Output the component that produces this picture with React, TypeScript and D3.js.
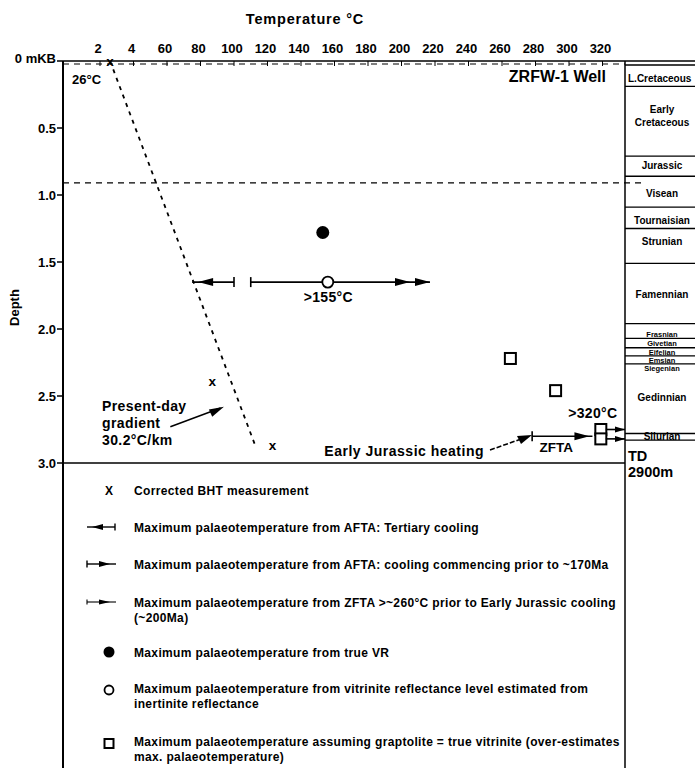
import React, { useEffect, useRef } from "react";
import * as d3 from "d3";

const W = 695;
const H = 768;
const FONT = '"Liberation Sans", Arial, sans-serif';

// axes
const tempTicks = [20, 40, 60, 80, 100, 120, 140, 160, 180, 200, 220, 240, 260, 280, 300, 320];
const tempTickLabels = ["2", "4", "60", "80", "100", "120", "140", "160", "180", "200", "220", "240", "260", "280", "300", "320"];
const depthTicks = [0, 0.5, 1, 1.5, 2, 2.5, 3];
const depthTickLabels = ["0 mKB", "0.5", "1.0", "1.5", "2.0", "2.5", "3.0"];

// corrected BHT (x)
const bhtTemp = [26, 87, 123];
const bhtDepth = [0, 2.39, 2.87];
// present-day gradient (30.2 C/km) end points
const gradTemp = [26, 113];
const gradDepth = [0, 2.88];
// true VR
const vrTemp = [153];
const vrDepth = [1.28];
// VR from inertinite
const inertTemp = [156];
const inertDepth = [1.65];
// graptolite reflectance
const graptTemp = [265, 292, 319, 319];
const graptDepth = [2.22, 2.46, 2.75, 2.82];
// AFTA / ZFTA ranges [tick, end]
const aftaTertiary = [100, 75];
const aftaEarly = [110, 217];
const zfta = [278, 314];
const aftaDepth = 1.65;
const zftaDepth = 2.8;
const unconformityDepth = 0.91;

// stratigraphic column
const stratNames = ["L.Cretaceous", "Early|Cretaceous", "Jurassic", "Visean", "Tournaisian", "Strunian", "Famennian",
  "Frasnian", "Givetian", "Eifelian", "Emsian", "Siegenian", "Gedinnian", "Silurian"];
const stratLabelDepth = [0.13, 0.41, 0.78, 0.99, 1.19, 1.35, 1.74, 2.03, 2.1, 2.17, 2.23, 2.29, 2.51, 2.8];
const stratBounds = [0.03, 0.19, 0.71, 0.86, 1.09, 1.25, 1.51, 1.96, 2.07, 2.14, 2.2, 2.26, 2.78, 2.83];

const legendItems = [
  ["Corrected BHT measurement"],
  ["Maximum palaeotemperature from AFTA: Tertiary cooling"],
  ["Maximum palaeotemperature from AFTA: cooling  commencing  prior to ~170Ma"],
  ["Maximum palaeotemperature from ZFTA >~260°C prior to Early Jurassic cooling", "(~200Ma)"],
  ["Maximum palaeotemperature from true VR"],
  ["Maximum palaeotemperature from vitrinite reflectance level estimated from", "inertinite reflectance"],
  ["Maximum palaeotemperature assuming graptolite = true vitrinite (over-estimates", "max. palaeotemperature)"],
];
const legendY = [490, 527, 564, 602, 652, 688, 741];

const App = () => {
  const ref = useRef<SVGSVGElement>(null);

  useEffect(() => {
    document.body.style.margin = "0";
    const svg = d3.select(ref.current);
    svg.selectAll("*").remove();

    const left = 63;
    const right = 625;
    const x = d3.scaleLinear().domain([0, 320]).range([66.5, 602.5]);
    const y = d3.scaleLinear().domain([0, 3]).range([61, 463]);

    const txt = (g: any, px: number, py: number, s: string, size: number, anchor = "start", ls = 0) =>
      g.append("text")
        .attr("x", px).attr("y", py)
        .attr("font-family", FONT).attr("font-weight", "bold")
        .attr("font-size", size).attr("text-anchor", anchor)
        .attr("letter-spacing", ls)
        .attr("fill", "black").text(s);

    const arrow = (g: any, tipX: number, tipY: number, dir: number, len = 13, half = 3.5) => {
      g.append("path")
        .attr("d", `M${tipX},${tipY}L${tipX - dir * len},${tipY - half}L${tipX - dir * len},${tipY + half}Z`)
        .attr("fill", "black");
    };

    const g = svg.append("g");

    // title
    txt(g, 305, 24, "Temperature  °C", 14.5, "middle", 0.8);

    // top axis
    g.append("line").attr("x1", left).attr("x2", right).attr("y1", 61).attr("y2", 61)
      .attr("stroke", "black").attr("stroke-width", 1.5);
    g.append("line").attr("x1", left).attr("x2", right).attr("y1", 64).attr("y2", 64)
      .attr("stroke", "black").attr("stroke-width", 1.2).attr("stroke-dasharray", "6,5");
    tempTicks.forEach((t, i) => {
      txt(g, x(t) - 2, 53, tempTickLabels[i], 13, "middle");
      g.append("line").attr("x1", x(t)).attr("x2", x(t)).attr("y1", 61).attr("y2", 66)
        .attr("stroke", "black").attr("stroke-width", 1);
    });

    // left axis (runs down past legend)
    g.append("line").attr("x1", left).attr("x2", left).attr("y1", 61).attr("y2", H)
      .attr("stroke", "black").attr("stroke-width", 2);
    depthTicks.forEach((d, i) => {
      txt(g, 56, y(d) + 4.5 - (i === 0 ? 3 : 0), depthTickLabels[i], 13, "end");
      g.append("line").attr("x1", 57).attr("x2", left).attr("y1", y(d)).attr("y2", y(d))
        .attr("stroke", "black").attr("stroke-width", 1.5);
    });
    txt(g, 0, 0, "Depth", 13, "middle").attr("transform", `translate(19,${y(1.84)}) rotate(-90)`);

    // bottom line at 3.0 and right frame
    g.append("line").attr("x1", left).attr("x2", right).attr("y1", y(3)).attr("y2", y(3))
      .attr("stroke", "black").attr("stroke-width", 1.5);
    g.append("line").attr("x1", right).attr("x2", right).attr("y1", 61).attr("y2", H)
      .attr("stroke", "black").attr("stroke-width", 1.5);

    // unconformity dashed line
    g.append("line").attr("x1", left).attr("x2", 645).attr("y1", y(unconformityDepth)).attr("y2", y(unconformityDepth))
      .attr("stroke", "black").attr("stroke-width", 1.2).attr("stroke-dasharray", "6,5");

    // stratigraphic column
    g.append("line").attr("x1", right).attr("x2", W).attr("y1", 61).attr("y2", 61)
      .attr("stroke", "black").attr("stroke-width", 1.5);
    stratBounds.forEach((d) => {
      g.append("line").attr("x1", right).attr("x2", W).attr("y1", y(d)).attr("y2", y(d))
        .attr("stroke", "black").attr("stroke-width", 1.3);
    });
    stratNames.forEach((n, i) => {
      const parts = n.split("|");
      const small = i >= 7 && i <= 11;
      const size = small ? 7.5 : 10;
      const cx = i === 0 ? 628 : 662;
      parts.forEach((p, j) => {
        txt(g, cx, y(stratLabelDepth[i]) + 3.5 + (j - (parts.length - 1) / 2) * 13, p, size, i === 0 ? "start" : "middle");
      });
    });
    txt(g, 628, 461, "TD", 14.5);
    txt(g, 628, 477, "2900m", 14.5);

    // well name
    txt(g, 606, 82, "ZRFW-1 Well", 16, "end");
    txt(g, 72, 84, "26°C", 13, "start");

    // present-day gradient
    g.append("path")
      .attr("d", d3.line<number>().x((_, i) => x(gradTemp[i])).y((d) => y(d))(gradDepth))
      .attr("fill", "none").attr("stroke", "black").attr("stroke-width", 1.8).attr("stroke-dasharray", "4,5");
    txt(g, 102, 411, "Present-day", 14, "start", 0.4);
    txt(g, 102, 428, "gradient", 14, "start", 0.4);
    txt(g, 102, 445, "30.2°C/km", 14, "start", 0.4);
    g.append("line").attr("x1", x(62)).attr("x2", x(92)).attr("y1", y(2.73)).attr("y2", y(2.59))
      .attr("stroke", "black").attr("stroke-width", 1.5);
    g.append("path").attr("d", `M${x(94)},${y(2.58)}L${x(85)},${y(2.6)}L${x(87)},${y(2.655)}Z`).attr("fill", "black");

    // BHT
    bhtTemp.forEach((t, i) => {
      txt(g, x(t), y(bhtDepth[i]) + 4.5, "x", 13.5, "middle");
    });

    // AFTA tertiary cooling
    g.append("line").attr("x1", x(aftaTertiary[0])).attr("x2", x(aftaTertiary[1]))
      .attr("y1", y(aftaDepth)).attr("y2", y(aftaDepth)).attr("stroke", "black").attr("stroke-width", 1.6);
    g.append("line").attr("x1", x(aftaTertiary[0])).attr("x2", x(aftaTertiary[0]))
      .attr("y1", y(aftaDepth) - 5).attr("y2", y(aftaDepth) + 5).attr("stroke", "black").attr("stroke-width", 1.6);
    arrow(g, x(aftaTertiary[1]) + 6, y(aftaDepth), -1, 15, 4);

    // AFTA early cooling
    g.append("line").attr("x1", x(aftaEarly[0])).attr("x2", x(aftaEarly[1]))
      .attr("y1", y(aftaDepth)).attr("y2", y(aftaDepth)).attr("stroke", "black").attr("stroke-width", 1.6);
    g.append("line").attr("x1", x(aftaEarly[0])).attr("x2", x(aftaEarly[0]))
      .attr("y1", y(aftaDepth) - 5).attr("y2", y(aftaDepth) + 5).attr("stroke", "black").attr("stroke-width", 1.6);
    arrow(g, x(aftaEarly[1]) - 20, y(aftaDepth), 1, 15, 4);
    arrow(g, x(aftaEarly[1]), y(aftaDepth), 1, 15, 4);
    txt(g, x(inertTemp[0]) - 24, y(aftaDepth) + 20, ">155°C", 14, "start", 0.3);

    // ZFTA
    g.append("line").attr("x1", x(zfta[0])).attr("x2", x(zfta[1]))
      .attr("y1", y(zftaDepth)).attr("y2", y(zftaDepth)).attr("stroke", "black").attr("stroke-width", 1.6);
    g.append("line").attr("x1", x(zfta[0])).attr("x2", x(zfta[0]))
      .attr("y1", y(zftaDepth) - 5).attr("y2", y(zftaDepth) + 5).attr("stroke", "black").attr("stroke-width", 1.6);
    arrow(g, x(zfta[1]) - 3, y(zftaDepth), 1, 15, 4);
    txt(g, x(zfta[0]) + 24, y(zftaDepth) + 16, "ZFTA", 13.5, "middle");
    txt(g, 484, 456, "Early Jurassic heating", 14, "end", 0.5);
    g.append("line").attr("x1", 490).attr("x2", 524).attr("y1", 450).attr("y2", 438)
      .attr("stroke", "black").attr("stroke-width", 1.6).attr("stroke-dasharray", "5,2");
    g.append("path").attr("d", "M532,435L517,436L521,444Z").attr("fill", "black");

    // graptolite squares
    graptTemp.forEach((t, i) => {
      g.append("rect").attr("x", x(t) - 5.5).attr("y", y(graptDepth[i]) - 5.5).attr("width", 11).attr("height", 11)
        .attr("fill", "white").attr("stroke", "black").attr("stroke-width", 2);
    });
    graptDepth.slice(2).forEach((d) => {
      g.append("line").attr("x1", x(319) + 5).attr("x2", right).attr("y1", y(d)).attr("y2", y(d))
        .attr("stroke", "black").attr("stroke-width", 1.6);
      arrow(g, right, y(d), 1, 10, 3);
    });
    txt(g, x(319) - 8, 418, ">320°C", 14, "middle", 0.3);

    // VR points
    vrTemp.forEach((t, i) => {
      g.append("circle").attr("cx", x(t)).attr("cy", y(vrDepth[i])).attr("r", 6.5).attr("fill", "black");
    });
    inertTemp.forEach((t, i) => {
      g.append("circle").attr("cx", x(t)).attr("cy", y(inertDepth[i])).attr("r", 5.5)
        .attr("fill", "white").attr("stroke", "black").attr("stroke-width", 1.8);
    });

    // legend
    const lx = 109;
    const tx = 134;
    legendItems.forEach((lines, i) => {
      lines.forEach((l, j) => txt(g, tx, legendY[i] + 4.5 + j * 15, l, 12, "start", 0.35));
    });
    txt(g, lx, legendY[0] + 4.5, "X", 12, "middle");
    // tertiary
    let ly = legendY[1];
    g.append("line").attr("x1", 87).attr("x2", 115).attr("y1", ly).attr("y2", ly).attr("stroke", "black").attr("stroke-width", 1.4);
    g.append("line").attr("x1", 115).attr("x2", 115).attr("y1", ly - 3.5).attr("y2", ly + 3.5).attr("stroke", "black").attr("stroke-width", 1.4);
    arrow(g, 92, ly, -1, 11, 3);
    // early afta
    ly = legendY[2];
    g.append("line").attr("x1", 87).attr("x2", 116).attr("y1", ly).attr("y2", ly).attr("stroke", "black").attr("stroke-width", 1.4);
    g.append("line").attr("x1", 87).attr("x2", 87).attr("y1", ly - 3.5).attr("y2", ly + 3.5).attr("stroke", "black").attr("stroke-width", 1.4);
    arrow(g, 110, ly, 1, 11, 3);
    // zfta
    ly = legendY[3];
    g.append("line").attr("x1", 87).attr("x2", 116).attr("y1", ly).attr("y2", ly).attr("stroke", "black").attr("stroke-width", 1.1);
    g.append("line").attr("x1", 87).attr("x2", 87).attr("y1", ly - 2.5).attr("y2", ly + 2.5).attr("stroke", "black").attr("stroke-width", 1.1);
    arrow(g, 110, ly, 1, 11, 2.5);
    g.append("circle").attr("cx", lx).attr("cy", legendY[4]).attr("r", 5.5).attr("fill", "black");
    g.append("circle").attr("cx", lx).attr("cy", legendY[5] + 2).attr("r", 4.5).attr("fill", "white")
      .attr("stroke", "black").attr("stroke-width", 1.8);
    g.append("rect").attr("x", lx - 4.5).attr("y", legendY[6] - 2).attr("width", 9).attr("height", 9)
      .attr("fill", "white").attr("stroke", "black").attr("stroke-width", 2);
  }, []);

  return <svg ref={ref} width={W} height={H} style={{ display: "block", background: "white" }} />;
};

export default App;
